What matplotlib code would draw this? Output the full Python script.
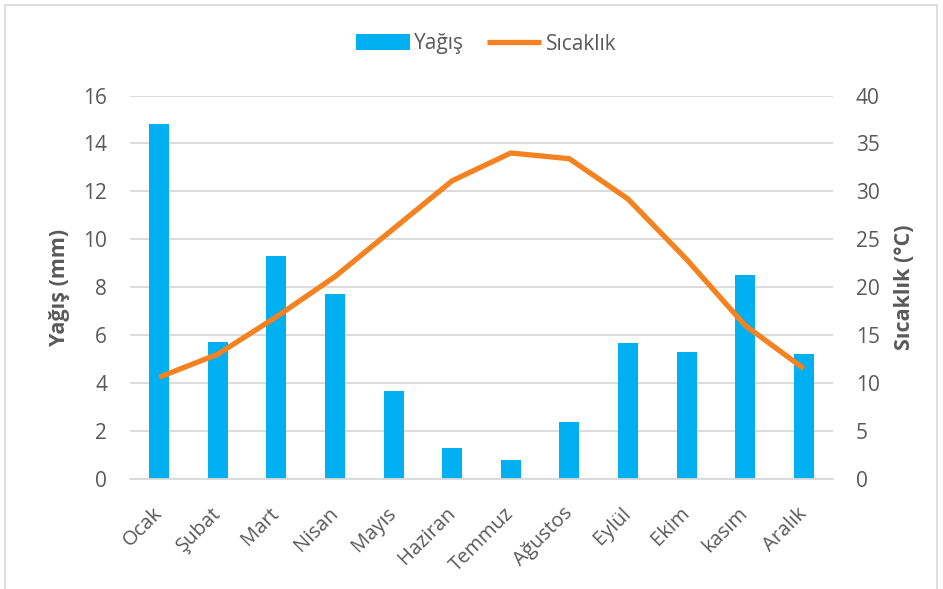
import matplotlib
matplotlib.use("Agg")
import numpy as np
from matplotlib import pyplot as plt
from matplotlib.patches import Rectangle

aylar = ["Ocak", "Şubat", "Mart", "Nisan", "Mayıs", "Haziran",
         "Temmuz", "Ağustos", "Eylül", "Ekim", "kasım", "Aralık"]
yagis = [14.8, 5.72, 9.31, 7.72, 3.65, 1.28, 0.78, 2.37, 5.67, 5.28, 8.49, 5.22]
sicaklik = [10.6, 13.0, 16.9, 21.1, 26.1, 31.1, 34.0, 33.4, 29.2, 22.9, 16.0, 11.5]

MAVI = "#00B0F0"
TURUNCU = "#F58220"
GRI = "#595959"

plt.rcParams["font.family"] = ["Open Sans", "DejaVu Sans"]

fig = plt.figure(figsize=(9.43, 5.89), dpi=100)
ax = fig.add_axes([130 / 943, 1 - 478.7 / 589, (833 - 130) / 943, (478.7 - 95.5) / 589])
ax2 = ax.twinx()

x = np.arange(len(aylar))
ax.bar(x, yagis, width=0.34, color=MAVI, zorder=2, label="Yağış")
ax2.plot(x, sicaklik, color=TURUNCU, lw=3.8, solid_capstyle="butt", zorder=3, label="Sıcaklık")

ax.set_xlim(-0.5, len(aylar) - 0.5)
ax.set_ylim(0, 16)
ax.set_yticks(range(0, 17, 2))
ax2.set_ylim(0, 40)
ax2.set_yticks(range(0, 41, 5))

ax.yaxis.grid(True, color="#D9D9D9", lw=1.3, zorder=0)
ax.set_axisbelow(True)
for a in (ax, ax2):
    for s in a.spines.values():
        s.set_visible(False)
    a.tick_params(length=0, colors=GRI, labelsize=15)
ax.spines["bottom"].set_visible(True)
ax.spines["bottom"].set_color("#D9D9D9")
ax.spines["bottom"].set_linewidth(1.3)

ax.set_xticks(x)
ax.set_xticklabels(aylar, rotation=45, ha="right", va="center", rotation_mode="anchor")
ax.tick_params(axis="x", pad=23, labelsize=14.5)
ax.tick_params(axis="y", pad=16.5)
ax2.tick_params(axis="y", pad=16.5)

ax.set_ylabel("Yağış (mm)", fontsize=15.5, fontweight="bold", color=GRI, va="center")
ax2.set_ylabel("Sıcaklık (°C)", fontsize=15.5, fontweight="bold", color=GRI, va="center")
ax.yaxis.set_label_coords(-0.0996, 0.5)
ax2.yaxis.set_label_coords(1.1017, 0.5)

h1, l1 = ax.get_legend_handles_labels()
h2, l2 = ax2.get_legend_handles_labels()
fig.legend(h1 + h2, l1 + l2, loc="center", bbox_to_anchor=(486 / 943, 1 - 44 / 589),
           ncol=2, frameon=False, fontsize=15, labelcolor=GRI,
           handlelength=2.6, handleheight=0.8, columnspacing=1.1, handletextpad=0.2)

# light frame around the whole chart
fig.patches.append(Rectangle((5 / 943, -0.01), 932 / 943, 1 - 5 / 589 + 0.01,
                             transform=fig.transFigure, fill=False,
                             edgecolor="#D9D9D9", lw=1.2))

fig.savefig("out.png", dpi=100)
